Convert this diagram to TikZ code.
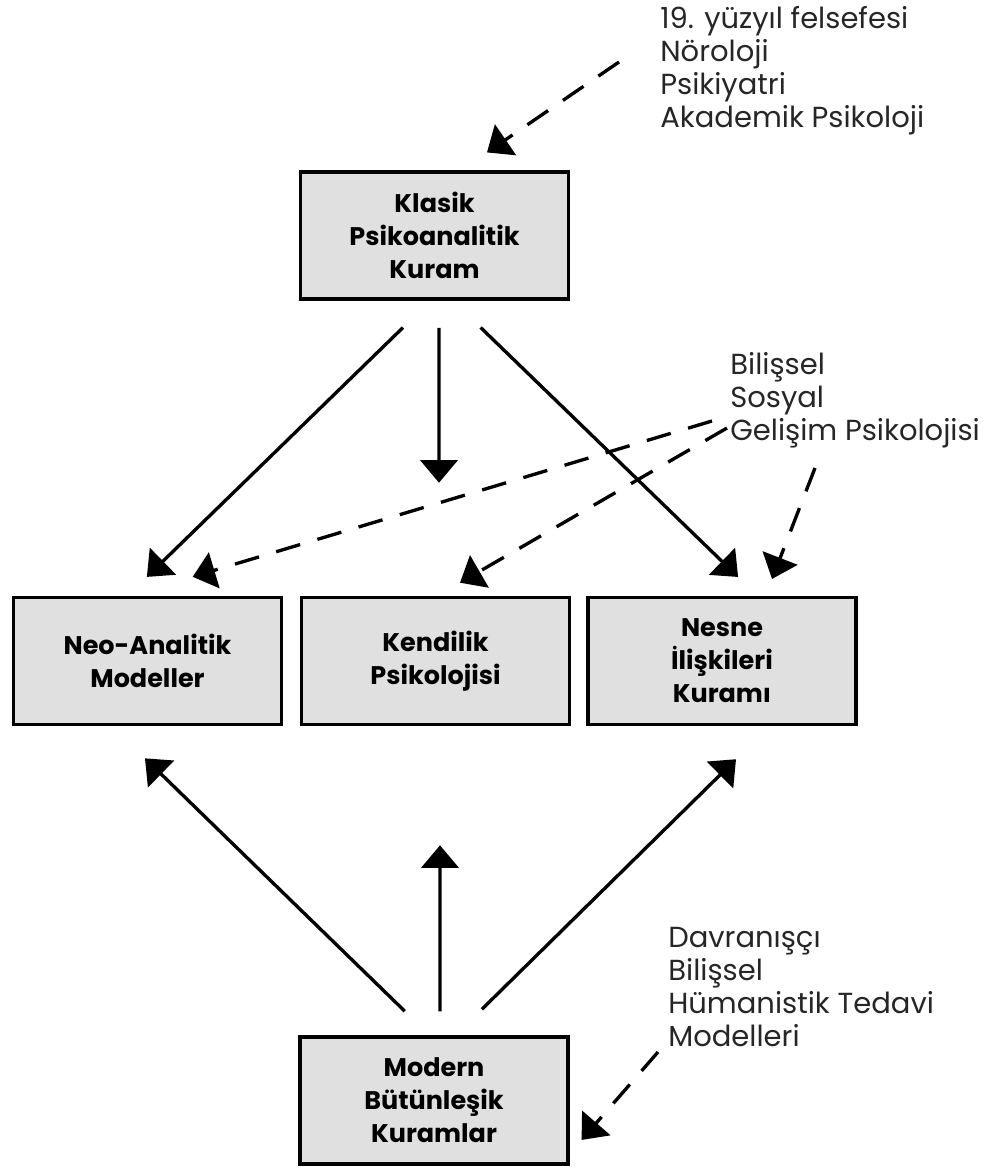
\documentclass[tikz,border=0pt]{standalone}
\usepackage{fontspec}
\setmainfont{Poppins}
\usetikzlibrary{arrows.meta}

\tikzset{
  kutu/.style={draw, line width=2pt, fill=black!12, minimum width=5.36cm, minimum height=2.54cm,
    align=center, inner sep=0pt, font=\bfseries\fontsize{14.5}{18.8}\selectfont},
  liste/.style={anchor=north west, align=left, inner sep=0pt, text=black!85,
    font=\fontsize{16.5}{18.8}\selectfont},
  ok/.style={line width=1.9pt, -{Triangle[width=0.74cm,length=0.45cm]}},
  kesik/.style={ok, dash pattern=on 0.5cm off 0.36cm}
}

\begin{document}
\begin{tikzpicture}
\useasboundingbox (0,0) rectangle (19.68,-23.38);
\node (klasik) at (8.69,-4.71) [kutu] {Klasik\\Psikoanalitik\\Kuram};
\node (neo) at (2.95,-13.22) [kutu] {Neo-Analitik\\Modeller};
\node (kendilik) at (8.71,-13.22) [kutu] {Kendilik\\Psikolojisi};
\node (nesne) at (14.44,-13.22) [kutu] {Nesne\\İlişkileri\\Kuramı};
\node (modern) at (8.68,-22.01) [kutu] {Modern\\Bütünleşik\\Kuramlar};
\node (kaynak) at (13.2,-0.12) [liste] {19. yüzyıl felsefesi\\Nöroloji\\Psikiyatri\\Akademik Psikoloji};
\node (gelisim) at (14.6,-7.04) [liste] {Bilişsel\\Sosyal\\Gelişim Psikolojisi};
\node (tedavi) at (13.36,-18.54) [liste] {Davranışçı\\Bilişsel\\Hümanistik Tedavi\\Modelleri};
\coordinate (k1) at (12.38,-1.24);
\coordinate (g1) at (14.24,-8.42);
\coordinate (g2) at (14.54,-8.56);
\coordinate (g3) at (16.3,-9.36);
\coordinate (t1) at (13.16,-21.04);
\draw[ok, shorten <=0.77cm, shorten >=0.54cm] ([xshift=-0.08cm]klasik.south) -- ([xshift=-0.4cm]neo.north);
\draw[ok, shorten <=0.54cm, shorten >=2.26cm] ([xshift=0.09cm]klasik.south) -- ([xshift=0.07cm]kendilik.north);
\draw[ok, shorten <=0.77cm, shorten >=0.54cm] ([xshift=0.37cm]klasik.south) -- ([xshift=0.71cm]nesne.north);
\draw[ok, shorten <=0.69cm, shorten >=0.92cm] ([xshift=-0.09cm]modern.north) -- ([xshift=-0.71cm]neo.south);
\draw[ok, shorten <=0.48cm, shorten >=2.38cm] ([xshift=0.12cm]modern.north) -- ([xshift=0.09cm]kendilik.south);
\draw[ok, shorten <=0.74cm, shorten >=0.94cm] ([xshift=0.43cm]modern.north) -- ([xshift=0.95cm]nesne.south);
\draw[kesik, shorten >=0.63cm] (k1) -- ([xshift=0.53cm]klasik.north);
\draw[kesik, shorten >=1.32cm] (g1) -- ([xshift=-0.36cm]neo.north);
\draw[kesik, shorten >=0.52cm] (g2) -- ([xshift=0.04cm]kendilik.north);
\draw[kesik, shorten >=0.36cm] (g3) -- ([xshift=0.87cm]nesne.north);
\draw[kesik, shorten >=0.36cm] (t1) -- ([yshift=-1.06cm]modern.east);
\end{tikzpicture}
\end{document}
